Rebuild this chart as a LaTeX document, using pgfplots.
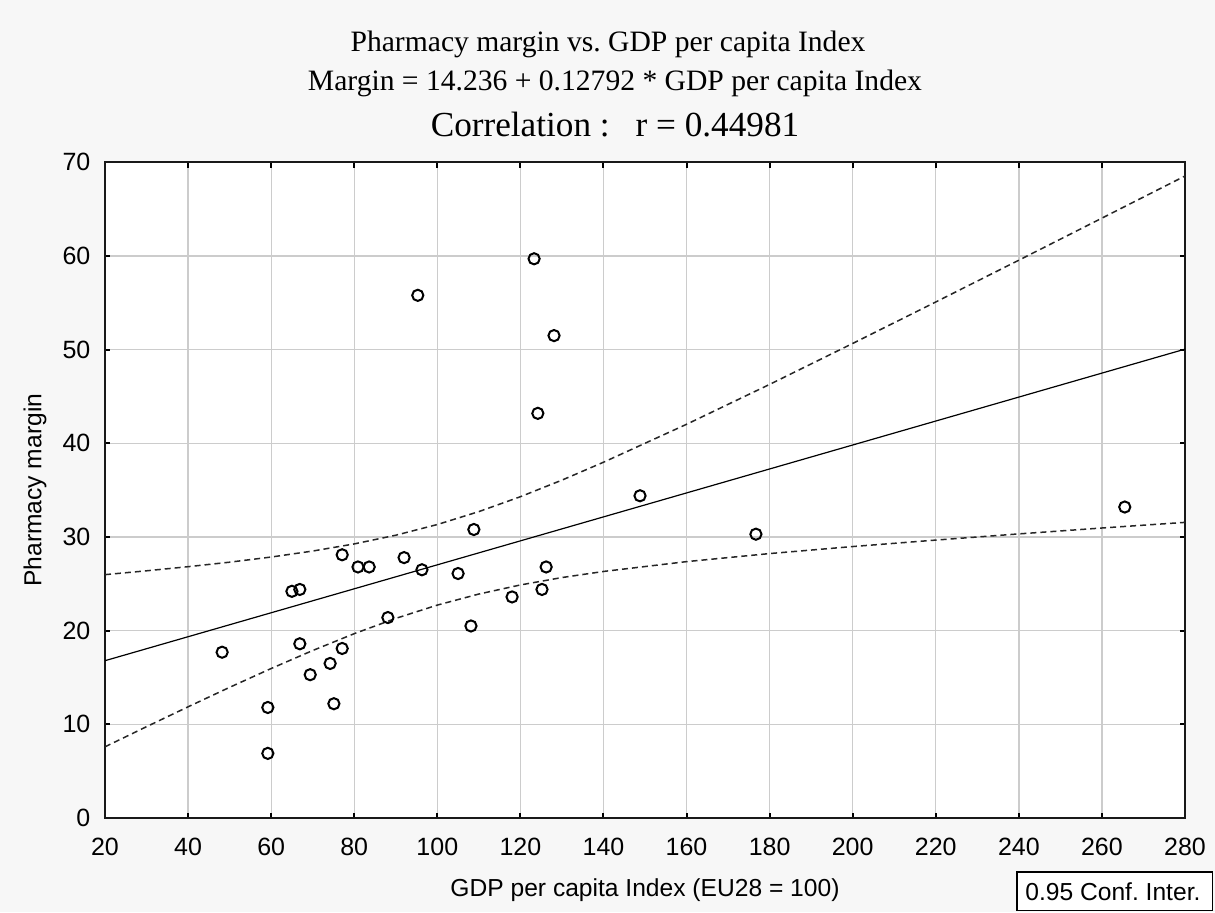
\documentclass[border=0pt]{standalone}
\usepackage{fontspec}
\setmainfont{Liberation Sans}
\newfontfamily\titleserif{Liberation Serif}
\usepackage{pgfplots}
\pgfplotsset{compat=1.18}
\frenchspacing
\begin{document}
\begin{tikzpicture}
\path[use as bounding box, fill=black!3] (-52.5pt,-47pt) rectangle (555pt,409pt);
\begin{axis}[
  at={(0pt,0pt)}, anchor=south west,
  scale only axis, width=540pt, height=327.85pt,
  xmin=20, xmax=280, ymin=0, ymax=70,
  xtick={20,40,...,280}, ytick={0,10,...,70},
  axis background/.style={fill=white},
  grid=major,
  major grid style={color=black!20, line width=0.65pt},
  axis line style={color=black!90, line width=1pt},
  tick align=inside, major tick length=2.6pt,
  every tick/.style={black, line width=1pt},
  /pgf/number format/assume math mode=true,
  tick label style={font=\fontsize{12.5}{14}\selectfont},
  xticklabel style={anchor=base, yshift=-18.5pt, inner sep=0pt},
  yticklabel style={anchor=east, inner sep=0pt, xshift=-7.1pt},
  xlabel={GDP per capita Index (EU28 = 100)},
  ylabel={Pharmacy margin},
  label style={font=\fontsize{12.3}{14}\selectfont},
  xlabel style={at={(axis description cs:0.5,0)}, anchor=base, yshift=-39.3pt},
  ylabel style={at={(axis description cs:0,0.5)}, anchor=center, rotate=0, yshift=35pt},
  clip=true,
]
% upper 95% confidence band
\addplot[black!85, line width=0.75pt, dash pattern=on 3pt off 2pt] coordinates {
 (20,25.98) (30,26.39) (40,26.83) (50,27.31) (60,27.86) (70,28.50) (80,29.26)
 (90,30.19) (100,31.33) (110,32.71) (120,34.30) (130,36.07) (140,37.98)
 (160,42.03) (180,46.29) (200,50.66) (220,55.09) (240,59.55) (260,64.04) (280,68.54)
};
% lower 95% confidence band
\addplot[black!85, line width=0.75pt, dash pattern=on 3pt off 2pt] coordinates {
 (20,7.60) (30,9.75) (40,11.87) (50,13.95) (60,15.96) (70,17.88) (80,19.68)
 (90,21.31) (100,22.73) (110,23.91) (120,24.88) (130,25.67) (140,26.32)
 (160,27.37) (180,28.23) (200,28.98) (220,29.67) (240,30.33) (260,30.96) (280,31.56)
};
% regression line: Margin = 14.236 + 0.12792 * GDP
\addplot[black, line width=0.6pt] coordinates {(20,16.794) (280,50.054)};
% data points
\addplot[only marks, mark=o, mark size=2.8pt, mark options={draw=black, fill=white, line width=1pt}] coordinates {
 (48.2,17.7) (59.2,11.8) (59.2,6.9) (65.0,24.2) (66.9,24.4) (66.9,18.6)
 (69.4,15.3) (74.2,16.5) (75.1,12.2) (77.1,18.1) (77.1,28.1) (80.9,26.8)
 (83.6,26.8) (88.1,21.4) (92.0,27.8) (95.3,55.8) (96.3,26.5) (105.0,26.1)
 (108.1,20.5) (108.8,30.8) (118.0,23.6) (123.3,59.7) (124.2,43.2) (125.2,24.4)
 (126.2,26.8) (128.1,51.5) (148.8,34.4) (176.7,30.3) (265.5,33.2)
};
\end{axis}
\node[anchor=base, font=\titleserif\fontsize{14.8}{17}\selectfont] at (251.5pt,383.2pt) {Pharmacy margin vs. GDP per capita Index};
\node[anchor=base, font=\titleserif\fontsize{14.8}{17}\selectfont] at (255pt,363.5pt) {Margin = 14.236 + 0.12792 * GDP per capita Index};
\node[anchor=base, font=\titleserif\fontsize{17.6}{20}\selectfont] at (255pt,340.7pt) {Correlation :\hspace{13pt}r = 0.44981};
\draw[black, line width=0.8pt, fill=white] (455.9pt,-26.9pt) rectangle (553.8pt,-46.2pt);
\node[anchor=base west, inner sep=0pt, font=\fontsize{12.3}{14}\selectfont] at (460pt,-41pt) {0.95 Conf. Inter.};
\end{tikzpicture}
\end{document}
